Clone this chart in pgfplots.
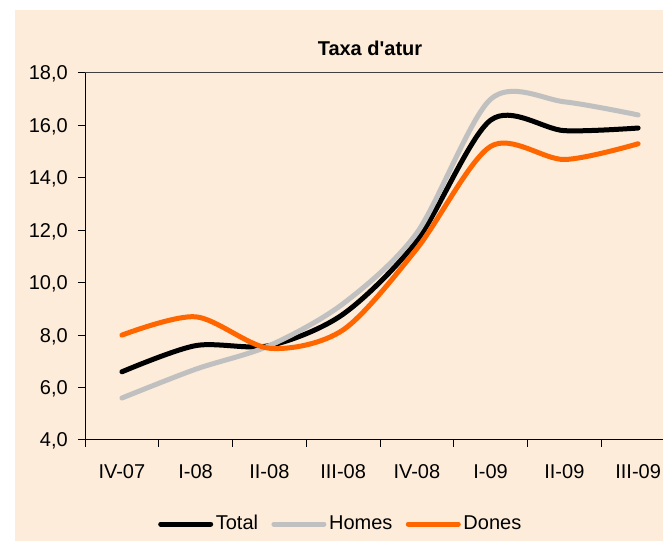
\documentclass[border=0pt]{standalone}
\usepackage{fontspec}
\setmainfont{Liberation Sans}
\newfontfamily\plainfont{Liberation Sans}
\usepackage{pgfplots}
\pgfplotsset{compat=1.18}
\definecolor{bg}{RGB}{252,236,217}
\definecolor{dones}{RGB}{255,102,0}
\definecolor{homes}{RGB}{192,192,192}
\begin{document}
\fontsize{15pt}{18pt}\selectfont
\begin{tikzpicture}
\fill[bg] (11.25pt,0pt) rectangle (497.25pt,398.25pt);
\begin{axis}[
  at={(63.75pt,75.75pt)}, anchor=south west,
  scale only axis, width=442.5pt, height=275.25pt,
  xmin=-0.5, xmax=7.5, ymin=4, ymax=18,
  axis x line*=bottom, axis y line*=left,
  axis line style={-, line width=0.75pt, black},
  xtick={0,...,7},
  xticklabels={IV-07,I-08,II-08,III-08,IV-08,I-09,II-09,III-09},
  minor xtick={-0.5,0.5,...,7.5},
  ytick={4,6,...,18},
  tick align=outside,
  major tick length=5.25pt, minor tick length=5.25pt,
  tick style={line width=0.75pt, black},
  major x tick style={draw=none},
  xticklabel style={anchor=north, inner sep=0pt, yshift=-13pt},
  yticklabel style={anchor=east, inner sep=0pt, text depth=0pt, xshift=-7.5pt,
    /pgf/number format/fixed, /pgf/number format/fixed zerofill,
    /pgf/number format/precision=1, /pgf/number format/use comma,
    /pgf/number format/assume math mode=true},
  title={{\plainfont\bfseries Taxa d'atur}},
  title style={at={(rel axis cs:0.483,1.025)}, anchor=base, inner sep=0pt},
  legend columns=3,
  legend style={at={(rel axis cs:0.434,-0.229)}, anchor=center, draw=none, fill=none,
    /tikz/every even column/.append style={column sep=8pt}},
  legend image code/.code={\draw[#1] (0pt,0pt) -- (37.5pt,0pt);},
]
\draw[black!75, line width=0.75pt] (rel axis cs:0,1) -- (rel axis cs:1,1);
\addplot[black, line width=3.75pt, smooth, line cap=round] coordinates {
(0,6.6) (1,7.6) (2,7.6) (3,8.8) (4,11.6) (5,16.2) (6,15.8) (7,15.9)};
\addlegendentry{Total}
\addplot[homes, line width=3.75pt, smooth, line cap=round] coordinates {
(0,5.6) (1,6.7) (2,7.6) (3,9.2) (4,11.9) (5,17.0) (6,16.9) (7,16.4)};
\addlegendentry{Homes}
\addplot[dones, line width=3.75pt, smooth, line cap=round] coordinates {
(0,8.0) (1,8.7) (2,7.5) (3,8.2) (4,11.3) (5,15.2) (6,14.7) (7,15.3)};
\addlegendentry{Dones}
\end{axis}
\pgfresetboundingbox
\path (0pt,0pt) rectangle (497.25pt,405.75pt);
\end{tikzpicture}
\end{document}
